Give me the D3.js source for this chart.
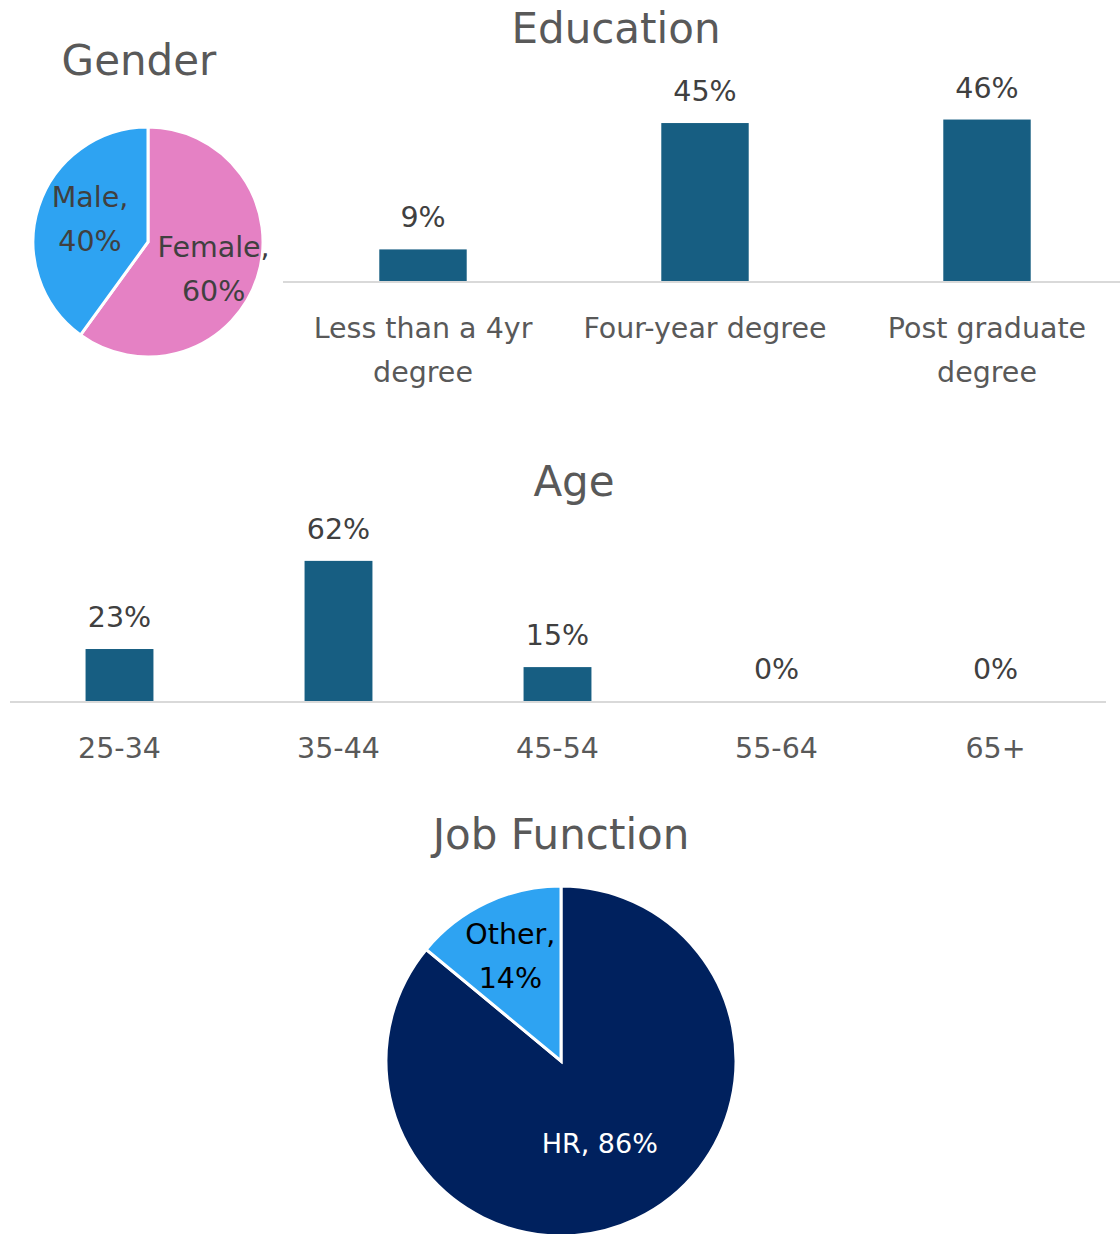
<!DOCTYPE html>
<html><head><meta charset="utf-8">
<script src="https://cdn.jsdelivr.net/npm/d3@7"></script>
<style>
html,body{margin:0;padding:0;background:#fff;}
svg{display:block;font-family:"DejaVu Sans",sans-serif;}
</style></head>
<body>
<svg id="chart" width="1120" height="1234"></svg>
<script>
// ---- data ----
const genderLabels = ["Female", "Male"];
const genderValues = [60, 40];
const eduCategories = ["Less than a 4yr degree", "Four-year degree", "Post graduate degree"];
const eduValues = [9, 45, 46];
const ageCategories = ["25-34", "35-44", "45-54", "55-64", "65+"];
const ageValues = [23, 62, 15, 0, 0];
const jobLabels = ["HR", "Other"];
const jobValues = [86, 14];

const svg = d3.select("#chart");
const titleColor = "#595959", labelColor = "#404040", barColor = "#175E82", axisColor = "#D9D9D9";
const titleSize = 42, labelSize = 28.5;

function title(x, y, t) {
  svg.append("text").attr("x", x).attr("y", y).attr("text-anchor", "middle")
    .attr("font-size", titleSize).attr("fill", titleColor).text(t);
}

// ---- Gender pie ----
title(139, 75, "Gender");
(function(){
  const cx = 148, cy = 242, R = 115;
  const g = svg.append("g").attr("transform", `translate(${cx},${cy})`);
  const data = genderLabels.map((l, i) => ({label: l, value: genderValues[i]}));
  const pie = d3.pie().sort(null).value(d => d.value);
  const arc = d3.arc().innerRadius(0).outerRadius(R);
  const colors = {"Female": "#E581C4", "Male": "#2EA3F2"};
  const lr = {"Female": 0.6, "Male": 0.53};
  const ldy = {"Female": 6, "Male": -4};
  const arcs = pie(data);
  g.selectAll("path").data(arcs).join("path").attr("d", arc)
    .attr("fill", d => colors[d.data.label]).attr("stroke", "#fff").attr("stroke-width", 3);
  arcs.forEach(d => {
    const k = d.data.label;
    const c = d3.arc().innerRadius(R * lr[k]).outerRadius(R * lr[k]).centroid(d);
    const t = g.append("text").attr("text-anchor", "middle").attr("font-size", labelSize).attr("fill", labelColor);
    t.append("tspan").attr("x", c[0]).attr("y", c[1] - 12 + ldy[k]).text(k + ",");
    t.append("tspan").attr("x", c[0]).attr("y", c[1] + 32 + ldy[k]).text(d.data.value + "%");
  });
})();

// ---- Education bars ----
title(616, 43, "Education");
(function(){
  const x = d3.scaleBand().domain(eduCategories).range([282, 1128]).paddingInner(0.69).paddingOuter(0.345);
  const y = d3.scaleLinear().domain([0, 50]).range([281, 105.5]);
  svg.append("g").selectAll("rect").data(eduCategories).join("rect")
    .attr("x", d => x(d)).attr("width", x.bandwidth())
    .attr("y", (d, i) => y(eduValues[i])).attr("height", (d, i) => y(0) - y(eduValues[i]))
    .attr("fill", barColor);
  svg.append("line").attr("x1", 283).attr("x2", 1128).attr("y1", y(0) + 1).attr("y2", y(0) + 1)
    .attr("stroke", axisColor).attr("stroke-width", 2);
  svg.append("g").selectAll("text").data(eduCategories).join("text")
    .attr("x", d => x(d) + x.bandwidth() / 2).attr("y", (d, i) => y(eduValues[i]) - 22)
    .attr("text-anchor", "middle").attr("font-size", labelSize).attr("fill", labelColor)
    .text((d, i) => eduValues[i] + "%");
  const lines = {"Less than a 4yr degree": ["Less than a 4yr", "degree"],
                 "Four-year degree": ["Four-year degree"],
                 "Post graduate degree": ["Post graduate", "degree"]};
  eduCategories.forEach(c => {
    const t = svg.append("text").attr("text-anchor", "middle").attr("font-size", labelSize).attr("fill", titleColor);
    lines[c].forEach((l, k) => t.append("tspan").attr("x", x(c) + x.bandwidth() / 2).attr("y", y(0) + 57 + k * 44).text(l));
  });
})();

// ---- Age bars ----
title(574, 496, "Age");
(function(){
  const x = d3.scaleBand().domain(ageCategories).range([10, 1105]).paddingInner(0.69).paddingOuter(0.345);
  const y = d3.scaleLinear().domain([0, 70]).range([701, 542.8]);
  svg.append("g").selectAll("rect").data(ageCategories).join("rect")
    .attr("x", d => x(d)).attr("width", x.bandwidth())
    .attr("y", (d, i) => y(ageValues[i])).attr("height", (d, i) => y(0) - y(ageValues[i]))
    .attr("fill", barColor);
  svg.append("line").attr("x1", 10).attr("x2", 1106).attr("y1", y(0) + 1).attr("y2", y(0) + 1)
    .attr("stroke", axisColor).attr("stroke-width", 2);
  svg.append("g").selectAll("text").data(ageCategories).join("text")
    .attr("x", d => x(d) + x.bandwidth() / 2).attr("y", (d, i) => y(ageValues[i]) - 22)
    .attr("text-anchor", "middle").attr("font-size", labelSize).attr("fill", labelColor)
    .text((d, i) => ageValues[i] + "%");
  svg.append("g").selectAll("text").data(ageCategories).join("text")
    .attr("x", d => x(d) + x.bandwidth() / 2).attr("y", y(0) + 57)
    .attr("text-anchor", "middle").attr("font-size", labelSize).attr("fill", titleColor)
    .text(d => d);
})();

// ---- Job Function pie ----
title(561, 849, "Job Function");
(function(){
  const cx = 561, cy = 1061, R = 175;
  const g = svg.append("g").attr("transform", `translate(${cx},${cy})`);
  const data = jobLabels.map((l, i) => ({label: l, value: jobValues[i]}));
  const pie = d3.pie().sort(null).value(d => d.value);
  const arc = d3.arc().innerRadius(0).outerRadius(R);
  const colors = {"HR": "#00215E", "Other": "#2EA3F2"};
  const arcs = pie(data);
  g.selectAll("path").data(arcs).join("path").attr("d", arc)
    .attr("fill", d => colors[d.data.label]).attr("stroke", "#fff").attr("stroke-width", 3);
  arcs.forEach(d => {
    if (d.data.label === "HR") {
      const c = d3.arc().innerRadius(R * 0.52).outerRadius(R * 0.52).centroid(d);
      g.append("text").attr("x", c[0]).attr("y", c[1] + 10).attr("text-anchor", "middle")
        .attr("font-size", 27).attr("fill", "#fff").text(d.data.label + ", " + d.data.value + "%");
    } else {
      const c = d3.arc().innerRadius(R * 0.68).outerRadius(R * 0.68).centroid(d);
      const t = g.append("text").attr("text-anchor", "middle").attr("font-size", labelSize).attr("fill", "#000");
      t.append("tspan").attr("x", c[0]).attr("y", c[1] - 9).text(d.data.label + ",");
      t.append("tspan").attr("x", c[0]).attr("y", c[1] + 35).text(d.data.value + "%");
    }
  });
})();
</script>
</body></html>
